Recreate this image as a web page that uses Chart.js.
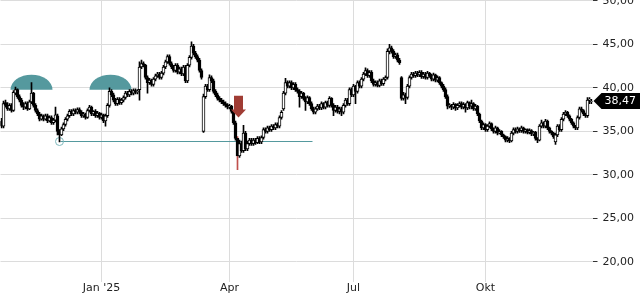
<!DOCTYPE html>
<html>
<head>
<meta charset="utf-8">
<script src="https://cdn.jsdelivr.net/npm/chart.js@4"></script>
<style>
  html, body { margin: 0; padding: 0; background: #fff; }
  #wrap { width: 640px; height: 300px; }
</style>
</head>
<body>
<div id="wrap"><canvas id="myChart"></canvas></div>
<script>
/*** DATA ***/
const opens = [
  36.2, 35.6, 38.3, 38.0, 37.6, 38.0, 37.4, 39.4, 39.8, 39.0,
  38.6, 38.0, 37.8, 38.2, 37.6, 38.4, 39.4, 38.0, 37.4, 37.0,
  36.4, 36.8, 36.4, 36.8, 36.2, 36.6, 36.0, 36.3, 36.8, 35.0,
  34.6, 35.3, 35.8, 36.4, 36.8, 37.3, 37.0, 37.4, 37.2, 37.5,
  37.2, 36.8, 37.0, 36.6, 37.4, 37.8, 37.0, 37.3, 36.8, 37.1,
  36.6, 36.9, 36.2, 36.8, 38.0, 39.6, 39.2, 38.6, 38.2, 38.7,
  38.3, 38.6, 38.9, 39.4, 39.2, 39.6, 39.4, 39.7, 39.5, 39.8,
  42.4, 42.8, 42.6, 41.2, 40.6, 40.9, 40.4, 41.0, 41.4, 41.6,
  41.2, 41.7, 42.4, 43.0, 43.6, 42.8, 42.4, 42.0, 42.6, 41.8,
  42.2, 41.6, 42.4, 40.8, 42.6, 43.5, 44.8, 44.0, 43.6, 43.2,
  42.0, 35.0, 39.0, 40.2, 39.8, 41.2, 40.8, 39.6, 39.2, 38.8,
  38.6, 38.4, 38.2, 38.0, 37.8, 37.9, 37.3, 36.0, 34.2, 32.2,
  33.6, 32.8, 34.8, 33.0, 33.6, 34.0, 33.6, 34.0, 33.7, 34.2,
  33.8, 34.3, 35.2, 35.0, 35.4, 35.2, 35.6, 35.4, 35.8, 35.6,
  36.6, 37.6, 39.4, 40.6, 40.2, 40.6, 40.0, 40.4, 39.8, 39.6,
  39.0, 39.4, 38.8, 38.4, 38.9, 38.2, 37.6, 37.2, 37.6, 37.9,
  37.7, 38.2, 37.8, 38.3, 38.0, 38.8, 38.0, 37.4, 37.8, 37.3,
  37.6, 37.2, 38.0, 38.6, 38.2, 39.8, 39.2, 40.2, 39.6, 40.6,
  40.2, 41.0, 41.6, 42.0, 41.4, 41.8, 40.8, 40.4, 40.6, 40.3,
  40.8, 40.5, 41.0, 41.2, 44.2, 44.6, 44.2, 43.6, 43.8, 43.2,
  41.2, 38.8, 39.2, 38.9, 40.2, 41.2, 41.6, 41.4, 41.7, 41.5,
  41.8, 41.3, 41.6, 41.2, 41.7, 41.4, 41.0, 41.5, 40.9, 41.2,
  40.6, 40.2, 39.8, 39.0, 37.9, 38.0, 37.8, 38.1, 37.7, 38.0,
  38.2, 37.8, 38.1, 37.7, 38.3, 37.9, 38.2, 37.6, 37.9, 37.0,
  36.2, 35.4, 35.8, 35.2, 35.6, 35.9, 35.3, 35.0, 35.4, 34.8,
  35.0, 34.6, 34.4, 34.0, 34.2, 33.9, 34.8, 35.2, 35.0, 35.3,
  35.1, 35.4, 35.0, 35.2, 34.9, 35.1, 34.7, 34.9, 34.2, 34.0,
  35.6, 36.0, 35.6, 36.2, 35.4, 35.0, 34.8, 33.8, 34.6, 35.6,
  35.2, 36.4, 37.0, 37.2, 36.8, 36.4, 36.0, 35.6, 35.4, 36.6,
  37.6, 37.4, 37.0, 36.8, 38.6, 38.4
];
const highs = [
  36.5, 38.5, 38.6, 38.3, 38.2, 38.2, 39.7, 40.1, 39.9, 39.2,
  38.8, 38.3, 38.4, 38.4, 38.6, 40.6, 39.5, 38.2, 37.6, 37.2,
  37.0, 36.9, 37.0, 37.0, 36.8, 36.8, 36.5, 37.8, 37.0, 35.2,
  35.5, 36.0, 36.6, 37.0, 37.5, 37.5, 37.6, 37.6, 37.7, 37.7,
  37.4, 37.2, 37.1, 37.6, 38.0, 37.9, 37.4, 37.5, 37.3, 37.2,
  37.1, 37.0, 37.0, 38.2, 40.0, 39.8, 39.4, 38.8, 38.9, 38.9,
  38.8, 39.1, 39.6, 39.6, 39.8, 39.8, 39.9, 39.9, 39.8, 43.0,
  43.2, 43.0, 42.7, 41.4, 41.1, 41.0, 41.2, 41.6, 41.8, 41.8,
  41.9, 42.6, 43.2, 43.8, 43.8, 43.0, 42.6, 42.8, 42.8, 42.4,
  42.4, 42.6, 42.6, 42.8, 43.7, 45.3, 45.0, 44.2, 43.8, 43.4,
  42.2, 39.3, 40.4, 40.4, 41.5, 41.4, 41.0, 39.8, 39.4, 39.0,
  38.8, 38.6, 38.4, 38.2, 38.1, 38.0, 37.4, 36.2, 34.4, 34.0,
  33.9, 35.7, 35.0, 33.9, 34.2, 34.2, 34.2, 34.2, 34.4, 34.4,
  34.5, 35.4, 35.4, 35.6, 35.6, 35.8, 35.8, 36.0, 36.0, 36.8,
  37.4, 39.6, 41.1, 40.8, 40.8, 40.8, 40.6, 40.6, 40.0, 39.8,
  39.6, 39.5, 39.0, 39.1, 39.0, 38.4, 37.8, 37.8, 38.1, 38.1,
  38.4, 38.3, 38.5, 38.5, 39.0, 38.9, 38.2, 38.0, 38.0, 37.8,
  37.8, 38.2, 38.8, 38.8, 40.0, 40.0, 40.4, 40.3, 40.8, 40.8,
  41.2, 41.8, 42.3, 42.2, 42.0, 42.0, 41.0, 40.8, 40.8, 41.0,
  41.0, 41.2, 41.4, 44.5, 45.0, 44.8, 44.4, 44.0, 44.0, 43.4,
  41.3, 39.5, 39.4, 40.4, 41.4, 41.8, 41.8, 41.9, 41.9, 42.0,
  42.0, 41.8, 41.8, 41.9, 41.8, 41.6, 41.7, 41.6, 41.4, 41.3,
  40.7, 40.4, 40.0, 39.2, 38.2, 38.1, 38.3, 38.2, 38.2, 38.4,
  38.4, 38.3, 38.2, 38.5, 38.4, 38.6, 38.3, 38.1, 38.0, 37.1,
  36.3, 36.0, 35.9, 35.8, 36.1, 36.0, 35.4, 35.6, 35.5, 35.2,
  35.1, 34.7, 34.5, 34.4, 34.3, 35.0, 35.4, 35.4, 35.5, 35.4,
  35.6, 35.5, 35.3, 35.3, 35.3, 35.2, 35.0, 35.0, 34.3, 35.8,
  36.3, 36.1, 36.4, 36.3, 35.5, 35.1, 34.9, 34.8, 35.8, 35.8,
  36.6, 37.2, 37.4, 37.3, 36.9, 36.5, 36.1, 35.7, 36.8, 37.8,
  37.8, 37.5, 37.1, 38.9, 38.9, 38.7
];
const lows = [
  35.4, 35.4, 37.8, 37.4, 37.4, 37.2, 37.3, 39.2, 38.8, 38.4,
  37.8, 37.5, 37.6, 37.4, 37.5, 38.2, 37.8, 37.2, 36.8, 36.2,
  36.3, 36.2, 36.3, 36.0, 36.1, 35.8, 35.8, 36.1, 34.6, 33.8,
  34.5, 35.1, 35.6, 36.2, 36.6, 36.8, 36.8, 37.0, 37.0, 37.0,
  36.6, 36.6, 36.4, 36.5, 37.2, 36.8, 36.8, 36.6, 36.6, 36.4,
  36.4, 36.0, 35.6, 36.6, 37.8, 39.0, 38.4, 38.0, 38.0, 38.1,
  38.1, 38.4, 38.7, 39.0, 39.0, 39.2, 39.2, 39.3, 39.3, 38.6,
  42.2, 42.4, 41.0, 39.4, 40.4, 40.2, 40.2, 40.8, 41.2, 41.0,
  41.0, 41.5, 42.2, 42.8, 42.6, 42.2, 41.8, 41.8, 41.6, 41.6,
  41.4, 41.4, 40.6, 40.6, 42.4, 43.3, 43.8, 43.4, 43.0, 41.8,
  41.0, 34.9, 38.8, 39.6, 39.6, 40.6, 39.4, 39.0, 38.6, 38.4,
  38.2, 38.0, 37.8, 37.6, 37.6, 37.1, 35.8, 34.0, 30.6, 32.0,
  32.6, 32.6, 32.8, 32.8, 33.4, 33.4, 33.4, 33.5, 33.6, 33.6,
  33.6, 34.1, 34.8, 34.8, 35.0, 35.0, 35.2, 35.2, 35.4, 35.4,
  36.4, 37.4, 39.2, 40.0, 40.0, 39.8, 39.8, 39.6, 39.4, 37.8,
  38.8, 38.6, 37.4, 38.2, 38.0, 37.4, 37.0, 37.0, 37.4, 37.5,
  37.5, 37.6, 37.6, 37.8, 37.8, 37.8, 36.8, 37.2, 37.1, 37.0,
  36.8, 37.0, 37.8, 38.0, 38.0, 39.0, 39.0, 38.2, 39.4, 40.0,
  40.0, 40.8, 41.4, 41.2, 41.2, 40.6, 40.2, 40.2, 40.1, 40.1,
  40.3, 40.3, 40.8, 41.0, 43.9, 44.0, 43.4, 43.4, 43.0, 42.7,
  38.6, 38.6, 38.2, 38.7, 40.0, 41.0, 41.2, 41.2, 41.3, 41.3,
  41.1, 41.1, 41.0, 41.0, 41.2, 40.8, 40.8, 40.7, 40.7, 40.4,
  40.0, 39.6, 38.8, 37.6, 37.7, 37.5, 37.6, 37.4, 37.5, 37.8,
  37.6, 37.6, 37.2, 37.5, 37.6, 37.6, 37.4, 37.4, 36.8, 36.0,
  35.2, 35.2, 35.0, 35.0, 35.4, 35.1, 34.8, 34.8, 34.6, 34.7,
  34.4, 34.2, 33.8, 33.8, 33.7, 33.8, 34.6, 34.8, 34.8, 34.9,
  34.9, 34.8, 34.8, 34.7, 34.7, 34.5, 34.5, 34.0, 33.7, 33.9,
  35.4, 35.4, 35.4, 35.2, 34.8, 34.6, 34.2, 33.5, 34.4, 35.0,
  35.0, 36.2, 36.8, 36.6, 36.2, 35.8, 35.4, 35.2, 35.2, 36.4,
  37.2, 36.8, 36.6, 36.6, 38.2, 38.2
];
const closes = [
  35.6, 38.2, 38.0, 37.6, 38.0, 37.4, 39.5, 39.8, 39.0, 38.6,
  38.0, 37.8, 38.2, 37.6, 38.4, 39.4, 38.0, 37.4, 37.0, 36.4,
  36.8, 36.4, 36.8, 36.2, 36.6, 36.0, 36.3, 36.9, 35.0, 34.6,
  35.3, 35.8, 36.4, 36.8, 37.3, 37.0, 37.4, 37.2, 37.5, 37.2,
  36.8, 37.0, 36.6, 37.4, 37.8, 37.0, 37.3, 36.8, 37.1, 36.6,
  36.9, 36.2, 36.8, 38.0, 39.6, 39.2, 38.6, 38.2, 38.7, 38.3,
  38.6, 38.9, 39.4, 39.2, 39.6, 39.4, 39.7, 39.5, 39.6, 42.4,
  42.8, 42.6, 41.2, 40.6, 40.9, 40.4, 41.0, 41.4, 41.6, 41.2,
  41.7, 42.4, 43.0, 43.6, 42.8, 42.4, 42.0, 42.6, 41.8, 42.2,
  41.6, 42.4, 40.8, 42.6, 43.5, 44.8, 44.0, 43.6, 43.2, 42.0,
  41.2, 39.0, 40.2, 39.8, 41.2, 40.8, 39.6, 39.2, 38.8, 38.6,
  38.4, 38.2, 38.0, 37.8, 37.9, 37.3, 36.0, 34.2, 32.2, 33.6,
  32.8, 34.8, 33.0, 33.6, 34.0, 33.6, 34.0, 33.7, 34.2, 33.8,
  34.3, 35.2, 35.0, 35.4, 35.2, 35.6, 35.4, 35.8, 35.6, 36.6,
  37.2, 39.4, 40.6, 40.2, 40.6, 40.0, 40.4, 39.8, 39.6, 39.0,
  39.4, 38.8, 38.4, 38.9, 38.2, 37.6, 37.2, 37.6, 37.9, 37.7,
  38.2, 37.8, 38.3, 38.0, 38.8, 38.0, 37.4, 37.8, 37.3, 37.6,
  37.2, 38.0, 38.6, 38.2, 39.8, 39.2, 40.2, 39.6, 40.6, 40.2,
  41.0, 41.6, 42.0, 41.4, 41.8, 40.8, 40.4, 40.6, 40.3, 40.8,
  40.5, 41.0, 41.2, 44.2, 44.6, 44.2, 43.6, 43.8, 43.2, 42.9,
  38.8, 39.2, 38.9, 40.2, 41.2, 41.6, 41.4, 41.7, 41.5, 41.8,
  41.3, 41.6, 41.2, 41.7, 41.4, 41.0, 41.5, 40.9, 41.2, 40.6,
  40.2, 39.8, 39.0, 37.9, 38.0, 37.8, 38.1, 37.7, 38.0, 38.2,
  37.8, 38.1, 37.7, 38.3, 37.9, 38.2, 37.6, 37.9, 37.0, 36.2,
  35.4, 35.8, 35.2, 35.6, 35.9, 35.3, 35.0, 35.4, 34.8, 35.0,
  34.6, 34.4, 34.0, 34.2, 33.9, 34.8, 35.2, 35.0, 35.3, 35.1,
  35.4, 35.0, 35.2, 34.9, 35.1, 34.7, 34.9, 34.2, 34.0, 35.6,
  36.0, 35.6, 36.2, 35.4, 35.0, 34.8, 34.4, 34.6, 35.6, 35.2,
  36.4, 37.0, 37.2, 36.8, 36.4, 36.0, 35.6, 35.4, 36.6, 37.6,
  37.4, 37.0, 36.8, 38.6, 38.7, 38.47
];

// month ticks on the x axis (candle index -> label)
const monthIndex = [50, 114, 176, 242];
const monthLabels = ["Jan '25", 'Apr', 'Jul', 'Okt'];
const yTicks = [20, 25, 30, 35, 40, 45, 50];

// annotations, in data units (candle index, price)
const domeIndex = [15, 54.5];
const domePrice = 39.8;
const lineStart = 29.5, lineEnd = 155.5, linePrice = 33.9;
const arrowIndex = 118.5, arrowTop = 39.1, arrowTip = 36.6;
const signalIndex = 118;

const labels = closes.map((c, i) => i);
const fmt = v => v.toFixed(2).replace('.', ',');

const TEAL = '#55999e';
const RED = '#a03c34';

const annotations = {
    id: 'annotations',
    beforeDatasetsDraw(chart) {
        const c = chart.ctx, x = chart.scales.x, y = chart.scales.y;
        c.save();
        c.fillStyle = TEAL;
        domeIndex.forEach(i => {
            c.beginPath();
            c.ellipse(x.getPixelForValue(i), y.getPixelForValue(domePrice), 21, 15, 0, Math.PI, 2 * Math.PI);
            c.closePath();
            c.fill();
        });
        c.strokeStyle = TEAL;
        c.lineWidth = 1;
        const ly = Math.round(y.getPixelForValue(linePrice)) + 0.5;
        c.beginPath();
        c.moveTo(x.getPixelForValue(lineStart), ly);
        c.lineTo(x.getPixelForValue(lineEnd), ly);
        c.stroke();
        c.strokeStyle = '#7fb8bc';
        c.beginPath();
        c.arc(x.getPixelForValue(lineStart - 0.5), ly, 4, 0, 2 * Math.PI);
        c.stroke();
        c.restore();
    },
    afterDatasetsDraw(chart) {
        const c = chart.ctx, x = chart.scales.x, y = chart.scales.y;
        const ax = x.getPixelForValue(arrowIndex);
        const top = y.getPixelForValue(arrowTop), tip = y.getPixelForValue(arrowTip);
        const neck = tip - 8;
        c.save();
        c.fillStyle = RED;
        c.beginPath();
        c.moveTo(ax - 4.5, top);
        c.lineTo(ax + 4.5, top);
        c.lineTo(ax + 4.5, neck);
        c.lineTo(ax + 7.5, neck);
        c.lineTo(ax, tip);
        c.lineTo(ax - 7.5, neck);
        c.lineTo(ax - 4.5, neck);
        c.closePath();
        c.fill();
        c.restore();
    },
    afterDraw(chart) {
        // last price tag on the right axis
        const c = chart.ctx, y = chart.scales.y;
        const last = closes[closes.length - 1];
        const py = Math.round(y.getPixelForValue(last));
        const left = chart.chartArea.right + 1;
        c.save();
        c.fillStyle = '#000';
        c.beginPath();
        c.moveTo(left, py);
        c.lineTo(left + 8, py - 8);
        c.lineTo(chart.width, py - 8);
        c.lineTo(chart.width, py + 8);
        c.lineTo(left + 8, py + 8);
        c.closePath();
        c.fill();
        c.fillStyle = '#fff';
        c.font = '11px "DejaVu Sans"';
        c.textBaseline = 'middle';
        c.fillText(fmt(last), left + 11, py + 0.5);
        c.restore();
    }
};

const ctx = document.getElementById('myChart');

new Chart(ctx, {
    type: 'bar',
    data: {
        labels: labels,
        datasets: [{
            label: 'body',
            data: opens.map((o, i) => [o, closes[i]]),
            backgroundColor: opens.map((o, i) => closes[i] >= o ? '#ffffff' : '#000000'),
            borderColor: '#000000',
            borderWidth: 1,
            borderSkipped: false,
            barThickness: 3,
            grouped: false
        }, {
            label: 'wick',
            data: lows.map((l, i) => [l, highs[i]]),
            backgroundColor: lows.map((l, i) => i === signalIndex ? '#c0504d' : '#000000'),
            barThickness: 1,
            grouped: false
        }]
    },
    plugins: [annotations],
    options: {
        responsive: true,
        maintainAspectRatio: false,
        animation: false,
        layout: { padding: { left: 0.5, top: 0, right: 0, bottom: 0 } },
        plugins: {
            legend: { display: false },
            tooltip: { enabled: false }
        },
        scales: {
            x: {
                offset: true,
                grid: { offset: false, color: '#dcdcdc', drawTicks: false },
                border: { display: false },
                ticks: {
                    autoSkip: false,
                    maxRotation: 0,
                    padding: 0,
                    color: '#222',
                    font: { family: 'DejaVu Sans', size: 11 },
                    callback: (v, i) => {
                        const k = monthIndex.indexOf(i);
                        return k < 0 ? null : monthLabels[k];
                    }
                },
                afterFit: s => { s.height = 18; }
            },
            y: {
                position: 'right',
                min: 17.7,
                max: 50.1,
                grid: { color: '#dcdcdc', tickColor: '#333', tickLength: 5 },
                border: { display: false },
                ticks: {
                    padding: 5,
                    color: '#222',
                    font: { family: 'DejaVu Sans', size: 11 },
                    callback: v => fmt(v)
                },
                afterBuildTicks: s => { s.ticks = yTicks.map(v => ({ value: v })); },
                afterFit: s => { s.width = 47.5; s.paddingTop = 0; s.paddingBottom = 0; }
            }
        }
    }
});
</script>
</body>
</html>
